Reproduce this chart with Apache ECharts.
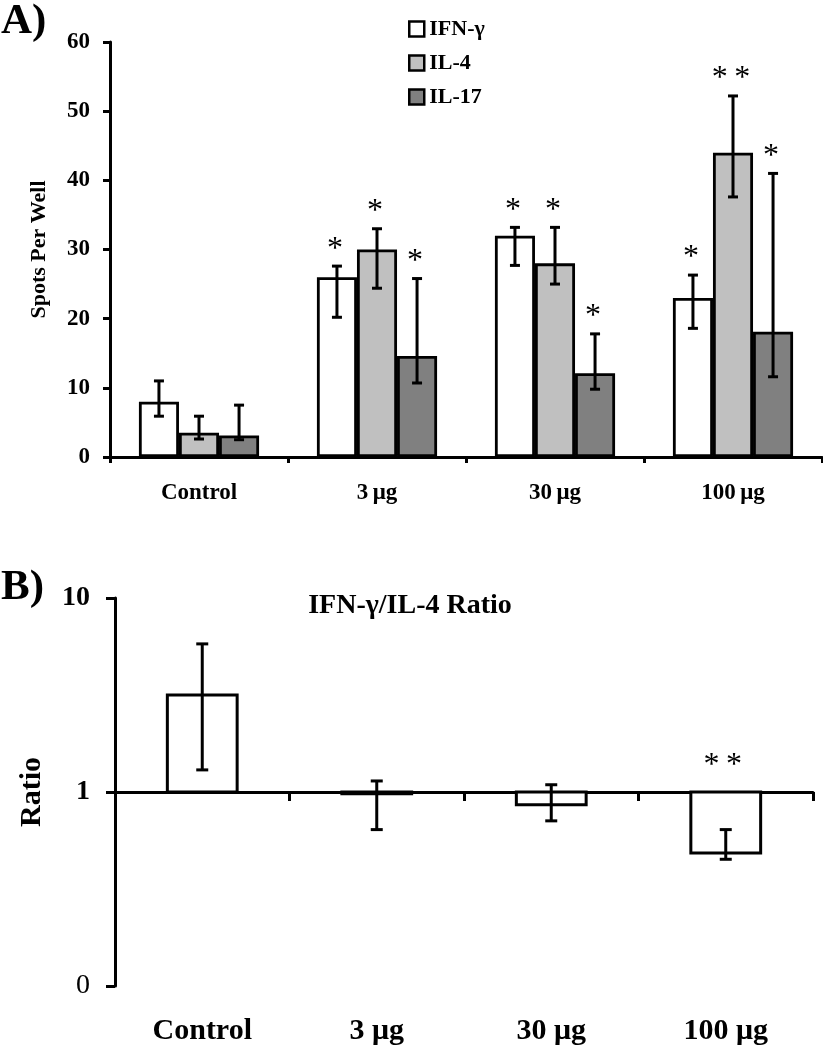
<!DOCTYPE html>
<html><head><meta charset="utf-8">
<script src="https://cdn.jsdelivr.net/npm/echarts@6/dist/echarts.min.js"></script>
<style>html,body{margin:0;padding:0;background:#fff}#c{width:823px;height:1050px}</style>
</head><body><div id="c"></div>
<script>
// ---------- DATA ----------
const categoriesA = ['Control', '3\u2009\u03bcg', '30\u2009\u03bcg', '100\u2009\u03bcg'];
const categoriesB = ['Control', '3 \u03bcg', '30 \u03bcg', '100 \u03bcg'];
const seriesNames = ['IFN-\u03b3', 'IL-4', 'IL-17'];

const ifnMean = [8, 26, 32, 23];
const ifnLow  = [5.9, 20.2, 27.7, 18.6];
const ifnHigh = [11, 27.6, 33.2, 26.3];
const ifnSig  = ['', '*', '*', '*'];

const il4Mean = [3.5, 30, 28, 44];
const il4Low  = [2.6, 24.4, 25, 37.6];
const il4High = [5.9, 33, 33.2, 52.2];
const il4Sig  = ['', '*', '*', '*\u2009*'];

const il17Mean = [3.1, 14.6, 12.1, 18.1];
const il17Low  = [2.5, 10.7, 9.8, 11.6];
const il17High = [7.5, 25.8, 17.8, 41];
const il17Sig  = ['', '*', '*', '*'];

const yTicksA = [0, 10, 20, 30, 40, 50, 60];

const ratioMean = [3.16, 0.98, 0.86, 0.485];
const ratioLow  = [1.3, 0.64, 0.71, 0.45];
const ratioHigh = [5.8, 1.14, 1.09, 0.64];
const ratioSig  = ['', '', '', '*\u2009*'];

// ---------- STYLE ----------
const FF = "'Liberation Serif','Times New Roman',serif";
const colors = ['#ffffff', '#c0c0c0', '#808080'];
const BAR_FRAC_A = 0.225;
const BAR_FRAC_B = 0.40;
const STAR_SIZE = 32;

const means = [ifnMean, il4Mean, il17Mean];
const lows = [ifnLow, il4Low, il17Low];
const highs = [ifnHigh, il4High, il17High];
const sigs = [ifnSig, il4Sig, il17Sig];

function errRenderA(k) {
  return function (params, api) {
    const ci = api.value(0);
    const catW = api.size([1, 0])[0];
    const dx = (k - 1) * catW * BAR_FRAC_A;
    const pL = api.coord([ci, api.value(1)]);
    const pH = api.coord([ci, api.value(2)]);
    const x = pL[0] + dx;
    const st = { stroke: '#000', lineWidth: 3 };
    const ch = [
      { type: 'line', shape: { x1: x, y1: pL[1], x2: x, y2: pH[1] }, style: st },
      { type: 'line', shape: { x1: x - 5, y1: pH[1], x2: x + 5, y2: pH[1] }, style: st },
      { type: 'line', shape: { x1: x - 5, y1: pL[1], x2: x + 5, y2: pL[1] }, style: st }
    ];
    const s = sigs[k][ci];
    if (s) ch.push({ type: 'text', x: x - 2, y: pH[1] - 17,
      style: { text: s, fontFamily: FF, fontSize: STAR_SIZE, fill: '#000', textAlign: 'center', textVerticalAlign: 'middle' } });
    return { type: 'group', children: ch };
  };
}

function renderB(params, api) {
  const ci = api.value(0);
  const catW = api.size([1, 0])[0];
  const w = catW * BAR_FRAC_B;
  const pV = api.coord([ci, api.value(1)]);
  const pB = api.coord([ci, 1]);
  const pL = api.coord([ci, api.value(2)]);
  const pH = api.coord([ci, api.value(3)]);
  const x = pV[0];
  const st = { stroke: '#000', lineWidth: 3 };
  const ch = [
    { type: 'rect', shape: { x: x - w / 2, y: Math.min(pV[1], pB[1]), width: w, height: Math.max(1, Math.abs(pV[1] - pB[1])) },
      style: { fill: '#fff', stroke: '#000', lineWidth: 3 } },
    { type: 'line', shape: { x1: x, y1: pL[1], x2: x, y2: pH[1] }, style: st },
    { type: 'line', shape: { x1: x - 6, y1: pH[1], x2: x + 6, y2: pH[1] }, style: st },
    { type: 'line', shape: { x1: x - 6, y1: pL[1], x2: x + 6, y2: pL[1] }, style: st }
  ];
  const s = ratioSig[ci];
  if (s) {
    const top = Math.min(pB[1], pH[1], pV[1]);
    ch.push({ type: 'text', x: x - 3, y: top - 26,
      style: { text: s, fontFamily: FF, fontSize: STAR_SIZE, fill: '#000', textAlign: 'center', textVerticalAlign: 'middle' } });
  }
  return { type: 'group', children: ch };
}

const axisLineStyle = { color: '#000', width: 3 };

const chart = echarts.init(document.getElementById('c'), null, { renderer: 'canvas' });

const barSeries = seriesNames.map((n, k) => ({
  name: n, type: 'bar', xAxisIndex: 0, yAxisIndex: 0,
  data: means[k], barWidth: (BAR_FRAC_A * 100) + '%', barGap: '0%',
  itemStyle: { color: colors[k], borderColor: '#000', borderWidth: 2.8 },
  emphasis: { disabled: true }, z: 2
}));
const errSeries = seriesNames.map((n, k) => ({
  type: 'custom', xAxisIndex: 0, yAxisIndex: 0,
  data: means[k].map((v, i) => [i, lows[k][i], highs[k][i]]),
  renderItem: errRenderA(k), z: 5, silent: true
}));

const option = {
  animation: false,
  backgroundColor: '#fff',
  title: [
    { text: 'A)', left: 1, top: 0, textStyle: { fontFamily: FF, fontSize: 43, fontWeight: 'bold', color: '#000' }, padding: 0 },
    { text: 'B)', left: 1, top: 566, textStyle: { fontFamily: FF, fontSize: 43, fontWeight: 'bold', color: '#000' }, padding: 0 },
    { text: 'IFN-\u03b3/IL-4 Ratio', left: 410, textAlign: 'center', top: 592, padding: 0,
      textStyle: { fontFamily: FF, fontSize: 28, fontWeight: 'bold', color: '#000' } }
  ],
  legend: {
    data: seriesNames, orient: 'vertical', left: 408, top: 18, padding: 0,
    itemWidth: 15, itemHeight: 15, itemGap: 12, icon: 'rect', selectedMode: false,
    itemStyle: { borderColor: '#000', borderWidth: 2.5 },
    textStyle: { fontFamily: FF, fontWeight: 'bold', fontSize: 22, lineHeight: 22, color: '#000' }
  },
  grid: [
    { left: 110, top: 42, width: 712, height: 415, outerBoundsMode: 'none' },
    { left: 115, top: 598, width: 698, height: 388, outerBoundsMode: 'none' }
  ],
  xAxis: [
    { type: 'category', gridIndex: 0, data: categoriesA, position: 'bottom',
      axisLine: { show: true, onZero: false, lineStyle: axisLineStyle },
      axisTick: { show: true, length: 6, lineStyle: { color: '#000', width: 3 } },
      axisLabel: { fontFamily: FF, fontWeight: 'bold', fontSize: 23, color: '#000', margin: 25 } },
    { type: 'category', gridIndex: 1, data: categoriesB, position: 'bottom',
      axisLine: { show: false, onZero: false }, axisTick: { show: false },
      axisLabel: { fontFamily: FF, fontWeight: 'bold', fontSize: 30, color: '#000', margin: 30 } },
    { type: 'category', gridIndex: 1, data: categoriesB, position: 'bottom', offset: -194,
      axisLine: { show: true, onZero: false, lineStyle: axisLineStyle },
      axisTick: { show: true, length: 9, lineStyle: { color: '#000', width: 3 } },
      axisLabel: { show: false } }
  ],
  yAxis: [
    { type: 'value', gridIndex: 0, min: yTicksA[0], max: yTicksA[yTicksA.length - 1], interval: 10,
      name: 'Spots Per Well', nameLocation: 'middle', nameRotate: 90, nameGap: 60,
      nameTextStyle: { fontFamily: FF, fontWeight: 'bold', fontSize: 22, color: '#000' },
      axisLine: { show: true, lineStyle: axisLineStyle },
      axisTick: { show: true, length: 7, lineStyle: { color: '#000', width: 3 } },
      splitLine: { show: false },
      axisLabel: { fontFamily: FF, fontWeight: 'bold', fontSize: 23, color: '#000', margin: 20 } },
    { type: 'log', gridIndex: 1, logBase: 10, min: 0.1, max: 10,
      name: 'Ratio', nameLocation: 'middle', nameRotate: 90, nameGap: 68,
      nameTextStyle: { fontFamily: FF, fontWeight: 'bold', fontSize: 30, color: '#000' },
      axisLine: { show: true, lineStyle: axisLineStyle },
      axisTick: { show: true, length: 9, lineStyle: { color: '#000', width: 3 } },
      splitLine: { show: false }, minorTick: { show: false },
      axisLabel: { fontFamily: FF, fontWeight: 'bold', fontSize: 28, color: '#000', margin: 25,
        formatter: v => (v < 0.5 ? '{r|0}' : String(Math.round(v))),
        rich: { r: { fontFamily: FF, fontWeight: 'normal', fontSize: 28, color: '#000' } } } }
  ],
  series: [
    ...barSeries,
    ...errSeries,
    { type: 'custom', xAxisIndex: 1, yAxisIndex: 1,
      data: ratioMean.map((v, i) => [i, v, ratioLow[i], ratioHigh[i]]),
      renderItem: renderB, z: 5, silent: true }
  ]
};
chart.setOption(option);
// place the ratio x-axis line at ratio = 1
const y1 = chart.convertToPixel({ yAxisIndex: 1 }, 1);
const yb = chart.convertToPixel({ yAxisIndex: 1 }, 0.1);
if (isFinite(y1) && isFinite(yb)) {
  chart.setOption({ xAxis: [{}, {}, { offset: y1 - yb }] });
}
</script></body></html>
